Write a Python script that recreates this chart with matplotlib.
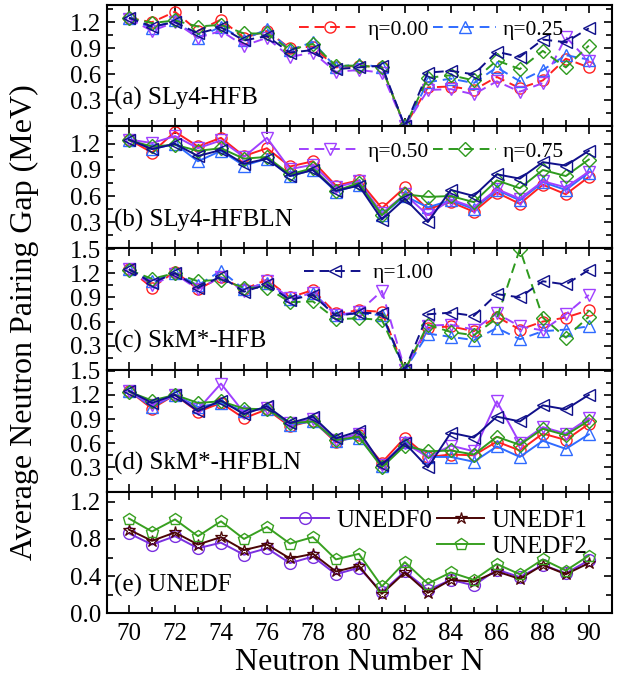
import matplotlib as mpl
mpl.use('Agg')

import matplotlib.pyplot as plt
from matplotlib.lines import Line2D
from matplotlib.ticker import MultipleLocator, FixedLocator

N = list(range(70, 91))

# (a) SLy4-HFB
a_00 = [1.25, 1.20, 1.32, 1.10, 1.23, 1.02, 1.10, 0.90, 0.92, 0.68, 0.70, 0.68, 0.0, 0.45, 0.46, 0.42, 0.57, 0.44, 0.53, 0.78, 0.68]
a_25 = [1.25, 1.13, 1.22, 1.02, 1.15, 1.00, 1.12, 0.88, 0.97, 0.68, 0.72, 0.68, 0.0, 0.51, 0.55, 0.50, 0.68, 0.52, 0.65, 0.82, 0.77]
a_50 = [1.24, 1.10, 1.20, 1.02, 1.10, 0.93, 1.02, 0.80, 0.85, 0.63, 0.65, 0.62, 0.0, 0.42, 0.43, 0.37, 0.52, 0.40, 0.50, 1.03, 0.75]
a_75 = [1.25, 1.19, 1.22, 1.15, 1.17, 1.07, 1.07, 0.88, 0.95, 0.70, 0.70, 0.68, 0.0, 0.56, 0.59, 0.53, 0.76, 0.66, 0.87, 0.68, 0.93]
a_100 = [1.25, 1.15, 1.20, 1.07, 1.14, 0.99, 1.04, 0.85, 0.88, 0.66, 0.68, 0.70, 0.0, 0.62, 0.64, 0.60, 0.86, 0.80, 1.00, 0.97, 1.13]

# (b) SLy4-HFBLN
b_00 = [1.25, 1.10, 1.34, 1.17, 1.27, 1.06, 1.15, 0.94, 1.00, 0.72, 0.78, 0.46, 0.70, 0.45, 0.53, 0.42, 0.64, 0.51, 0.73, 0.62, 0.82]
b_25 = [1.25, 1.14, 1.20, 1.00, 1.12, 0.95, 1.03, 0.83, 0.90, 0.65, 0.73, 0.38, 0.60, 0.47, 0.55, 0.45, 0.67, 0.55, 0.76, 0.67, 0.87]
b_50 = [1.25, 1.21, 1.29, 1.15, 1.24, 1.05, 1.27, 0.91, 0.96, 0.70, 0.77, 0.40, 0.62, 0.38, 0.56, 0.47, 0.68, 0.57, 0.77, 0.70, 0.88]
b_75 = [1.24, 1.17, 1.19, 1.12, 1.15, 1.03, 1.05, 0.85, 0.92, 0.66, 0.75, 0.38, 0.62, 0.59, 0.60, 0.53, 0.78, 0.69, 0.90, 0.83, 1.02]
b_100 = [1.25, 1.14, 1.20, 1.06, 1.13, 0.97, 1.03, 0.83, 0.90, 0.66, 0.72, 0.33, 0.57, 0.30, 0.67, 0.60, 0.85, 0.80, 0.99, 0.95, 1.12]

# (c) SkM*-HFB
c_00 = [1.25, 1.02, 1.22, 1.00, 1.15, 1.00, 1.12, 0.90, 0.99, 0.70, 0.74, 0.72, 0.0, 0.52, 0.54, 0.48, 0.66, 0.50, 0.60, 0.65, 0.74]
c_25 = [1.25, 1.10, 1.20, 1.05, 1.23, 1.00, 1.08, 0.88, 0.96, 0.68, 0.70, 0.68, 0.0, 0.45, 0.41, 0.37, 0.52, 0.38, 0.48, 0.50, 0.54]
c_50 = [1.25, 1.05, 1.19, 1.00, 1.15, 0.98, 1.10, 0.89, 0.95, 0.68, 0.72, 0.98, 0.0, 0.55, 0.56, 0.50, 0.70, 0.54, 0.49, 0.69, 0.93]
c_75 = [1.24, 1.13, 1.20, 1.10, 1.12, 1.02, 1.02, 0.84, 0.85, 0.63, 0.64, 0.62, 0.0, 0.56, 0.47, 0.43, 0.64, 1.50, 0.65, 0.40, 0.66]
c_100 = [1.25, 1.08, 1.20, 1.02, 1.16, 0.97, 1.06, 0.87, 0.93, 0.67, 0.71, 0.70, 0.0, 0.69, 0.71, 0.67, 0.94, 0.90, 1.10, 1.06, 1.24]

# (d) SkM*-HFBLN
d_00 = [1.25, 1.03, 1.20, 0.99, 1.10, 0.91, 1.02, 0.81, 0.88, 0.61, 0.70, 0.36, 0.67, 0.43, 0.46, 0.45, 0.62, 0.51, 0.72, 0.64, 0.84]
d_25 = [1.25, 1.05, 1.20, 1.05, 1.10, 1.00, 1.03, 0.83, 0.87, 0.63, 0.67, 0.32, 0.62, 0.43, 0.43, 0.37, 0.56, 0.43, 0.63, 0.53, 0.71]
d_50 = [1.25, 1.07, 1.20, 1.02, 1.34, 0.98, 1.04, 0.85, 0.90, 0.64, 0.72, 0.33, 0.60, 0.43, 0.57, 0.50, 1.12, 0.60, 0.80, 0.72, 0.91]
d_75 = [1.24, 1.13, 1.20, 1.10, 1.12, 1.03, 1.02, 0.85, 0.87, 0.64, 0.68, 0.30, 0.57, 0.50, 0.51, 0.46, 0.68, 0.58, 0.78, 0.70, 0.88]
d_100 = [1.25, 1.10, 1.20, 1.00, 1.13, 0.96, 1.06, 0.85, 0.93, 0.66, 0.75, 0.33, 0.60, 0.30, 0.73, 0.67, 0.93, 0.87, 1.07, 1.02, 1.20]

# (e) UNEDF
unedf0 = [0.86, 0.74, 0.83, 0.70, 0.76, 0.63, 0.70, 0.54, 0.61, 0.42, 0.49, 0.23, 0.45, 0.25, 0.36, 0.30, 0.47, 0.39, 0.52, 0.43, 0.57]
unedf1 = [0.90, 0.78, 0.87, 0.74, 0.82, 0.68, 0.74, 0.59, 0.64, 0.45, 0.51, 0.21, 0.44, 0.22, 0.36, 0.34, 0.45, 0.37, 0.52, 0.42, 0.54]
unedf2 = [1.02, 0.88, 1.01, 0.83, 0.99, 0.80, 0.93, 0.75, 0.82, 0.58, 0.64, 0.29, 0.55, 0.32, 0.44, 0.36, 0.53, 0.42, 0.58, 0.46, 0.62]

eta_labels = ["η=0.00", "η=0.25", "η=0.50", "η=0.75", "η=1.00"]
eta_colors = ["#ff2020", "#2f6bff", "#a040ff", "#2e9a1e", "#10108a"]
eta_markers = ["o", "^", "v", "D", "<"]
eta_msize = [8, 8.5, 8.5, 7, 8.5]

panels = [
    ([a_00, a_25, a_50, a_75, a_100], "(a) SLy4-HFB", True, 1.4, [0.3, 0.6, 0.9, 1.2]),
    ([b_00, b_25, b_50, b_75, b_100], "(b) SLy4-HFBLN", False, 1.4, [0.3, 0.6, 0.9, 1.2]),
    ([c_00, c_25, c_50, c_75, c_100], "(c) SkM*-HFB", True, 1.51, [0.3, 0.6, 0.9, 1.2, 1.5]),
    ([d_00, d_25, d_50, d_75, d_100], "(d) SkM*-HFBLN", False, 1.51, [0.3, 0.6, 0.9, 1.2, 1.5]),
]

plt.rcParams['font.family'] = ['Liberation Serif', 'DejaVu Serif']

fig = plt.figure(figsize=(6.23, 6.86), dpi=100)
left, right, top, bottom = 0.172, 0.982, 0.993, 0.106
h = (top - bottom) / 5
axes = []
for k in range(5):
    ax = fig.add_axes([left, top - (k + 1) * h, right - left, h])
    axes.append(ax)

dash = (0, (5, 3))
handles = []
for k, (series, label, dashed, ymax, yt) in enumerate(panels):
    ax = axes[k]
    for j in range(5):
        ln, = ax.plot(N, series[j], color=eta_colors[j], marker=eta_markers[j],
                      markersize=eta_msize[j], markerfacecolor='none',
                      markeredgewidth=1.0, linewidth=1.4,
                      linestyle=dash if dashed else '-', label=eta_labels[j])
        if k == 0:
            handles.append(ln)
    ax.set_ylim(0, ymax)
    ax.yaxis.set_major_locator(FixedLocator(yt))
    ax.yaxis.set_minor_locator(MultipleLocator(0.15))
    ax.text(0.013, 0.23, label, transform=ax.transAxes, fontsize=18, va='center')

ax = axes[4]
l0, = ax.plot(N, unedf0, color="#7a2fe0", marker='o', markersize=8.5, markerfacecolor='none', linewidth=1.4, label="UNEDF0")
l1, = ax.plot(N, unedf1, color="#4a0505", marker='*', markersize=9, markerfacecolor='none', markeredgewidth=0.9, linewidth=1.4, label="UNEDF1")
l2, = ax.plot(N, unedf2, color="#38a020", marker='p', markersize=9, markerfacecolor='none', linewidth=1.4, label="UNEDF2")
ax.set_ylim(0, 1.31)
ax.yaxis.set_major_locator(MultipleLocator(0.4))
ax.yaxis.set_minor_locator(MultipleLocator(0.2))
ax.text(0.013, 0.23, "(e) UNEDF", transform=ax.transAxes, fontsize=18, va='center')

leg_kw = dict(frameon=False, handlelength=2.9, handletextpad=0.3,
              columnspacing=0.2, borderpad=0.2, labelspacing=0.25)
axes[0].legend(handles[0:2], eta_labels[0:2], ncol=2, loc='upper left', fontsize=15.5,
               bbox_to_anchor=(0.35, 1.0), **leg_kw)
axes[1].legend(handles[2:4], eta_labels[2:4], ncol=2, loc='upper left', fontsize=15.5,
               bbox_to_anchor=(0.35, 1.0), **leg_kw)
axes[2].legend(handles[4:5], eta_labels[4:5], ncol=1, loc='upper left', fontsize=15.5,
               bbox_to_anchor=(0.36, 1.0), **leg_kw)
blank = Line2D([], [], linestyle='none', marker='none')
axes[4].legend([l0, blank, l1, l2], ["UNEDF0", "", "UNEDF1", "UNEDF2"], ncol=2,
               loc='upper left', bbox_to_anchor=(0.31, 1.0), fontsize=18,
               frameon=False, handlelength=1.9, handletextpad=0.3,
               columnspacing=0.2, borderpad=0.2, labelspacing=0.15)

for k, ax in enumerate(axes):
    ax.set_xlim(69.05, 91)
    ax.xaxis.set_major_locator(MultipleLocator(2))
    ax.xaxis.set_minor_locator(MultipleLocator(1))
    ax.tick_params(which='both', direction='in', top=True, right=True, labelsize=18, width=1.2)
    ax.tick_params(which='major', length=6)
    ax.tick_params(which='minor', length=4)
    ax.tick_params(axis='y', pad=4)
    ax.tick_params(axis='x', pad=7)
    for s in ax.spines.values():
        s.set_linewidth(1.5)
    if k < 4:
        ax.tick_params(labelbottom=False)

axes[4].set_xlabel("Neutron Number N", fontsize=23, labelpad=2)
fig.text(0.04, 0.53, "Average Neutron Pairing Gap (MeV)", rotation=90,
         fontsize=23, ha='center', va='center')

plt.savefig('out.png', dpi=100)
